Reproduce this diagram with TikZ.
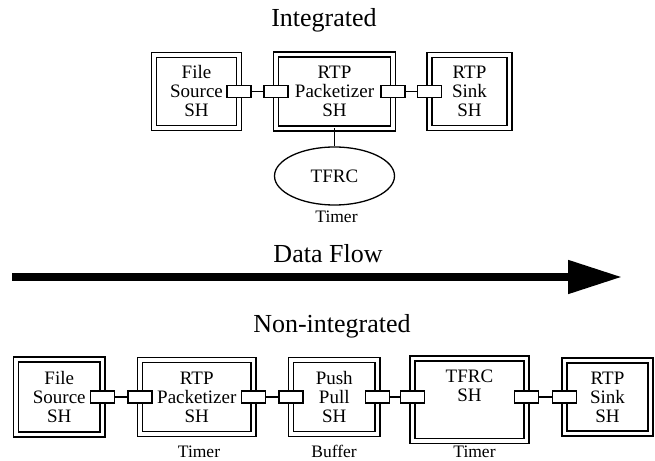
\documentclass[tikz,border=0pt]{standalone}
\usepackage{fontspec}
\setmainfont{Liberation Serif}
\usetikzlibrary{shapes.geometric,arrows.meta}

\begin{document}
\begin{tikzpicture}[
  x=1pt, y=1pt,
  sh/.style={draw, double, double distance=3.4pt, line width=1.6pt, outer sep=0pt,
    inner sep=0pt, align=center, font=\fontsize{19}{19}\selectfont},
  port/.style={draw, fill=white, line width=1.3pt, minimum width=24pt,
    minimum height=12pt, inner sep=0pt, outer sep=0pt},
  title/.style={font=\fontsize{26}{28}\selectfont, anchor=base, inner sep=0pt},
  note/.style={font=\fontsize{17.5}{19}\selectfont, anchor=base, inner sep=0pt},
  link/.style={line width=1.3pt}
]
  \useasboundingbox (0,0) rectangle (655,460);

  % integrated
  \node[title] (integ) at (324,433) {Integrated};

  \node[sh, minimum width=85pt, minimum height=73pt] (fsrc1) at (196.5,368.5) {File\\Source\\SH};
  \node[sh, minimum width=117pt, minimum height=74pt] (pkt1) at (334.5,368.5) {RTP\\Packetizer\\SH};
  \node[sh, minimum width=80pt, minimum height=73pt] (sink1) at (469.5,368.5) {RTP\\Sink\\SH};

  \node[port] (fsrc1-out) at (fsrc1.east) {};
  \node[port] (pkt1-in) at (pkt1.west) {};
  \node[port] (pkt1-out) at (pkt1.east) {};
  \node[port] (sink1-in) at (sink1.west) {};

  \draw[link] (fsrc1-out) -- (pkt1-in);
  \draw[link] (pkt1-out) -- (sink1-in);

  \node[ellipse, draw, line width=1.3pt, minimum width=120pt, minimum height=58pt,
    font=\fontsize{19}{19}\selectfont] (tfrc1) at (334.5,284) {TFRC};
  \draw[link] (pkt1.south) -- (tfrc1.north);
  \node[note] (timer1) at (336.5,237) {Timer};

  % data flow
  \node[title] (flow) at (328,197) {Data Flow};
  \coordinate (flowstart) at (12,183);
  \coordinate (flowend) at (622,183);
  \draw[line width=8pt, -{Triangle[length=54pt, width=32pt]}] (flowstart) -- (flowend);

  % non-integrated
  \node[title] (noninteg) at (332,127) {Non-integrated};

  \node[sh, minimum width=86.5pt, minimum height=74.5pt] (fsrc2) at (59.25,63) {File\\Source\\SH};
  \node[sh, minimum width=113.5pt, minimum height=74pt] (pkt2) at (196.75,63) {RTP\\Packetizer\\SH};
  \node[sh, minimum width=86.5pt, minimum height=74pt] (push2) at (334.25,63) {Push\\Pull\\SH};
  \node[sh, minimum width=114pt, minimum height=82.5pt] (tfrc2) at (469.5,60.25) {};
  \node[align=center, inner sep=0pt, font=\fontsize{19}{19}\selectfont] (tfrc2-text) at (469.5,74) {TFRC\\SH};
  \node[sh, minimum width=86pt, minimum height=73.5pt] (sink2) at (607.5,63) {RTP\\Sink\\SH};

  \node[port] (fsrc2-out) at (fsrc2.east) {};
  \node[port] (pkt2-in) at (pkt2.west) {};
  \node[port] (pkt2-out) at (pkt2.east) {};
  \node[port] (push2-in) at (push2.west) {};
  \node[port] (push2-out) at (push2.east) {};
  \node[port] (tfrc2-in) at (tfrc2.west |- push2.east) {};
  \node[port] (tfrc2-out) at (tfrc2.east |- push2.east) {};
  \node[port] (sink2-in) at (sink2.west |- push2.east) {};

  \draw[link] (fsrc2-out) -- (pkt2-in);
  \draw[link] (pkt2-out) -- (push2-in);
  \draw[link] (push2-out) -- (tfrc2-in);
  \draw[link] (tfrc2-out) -- (sink2-in);

  \node[note] (timer2) at (199,3) {Timer};
  \node[note] (buffer) at (334,3) {Buffer};
  \node[note] (timer3) at (474.5,3) {Timer};
\end{tikzpicture}
\end{document}
